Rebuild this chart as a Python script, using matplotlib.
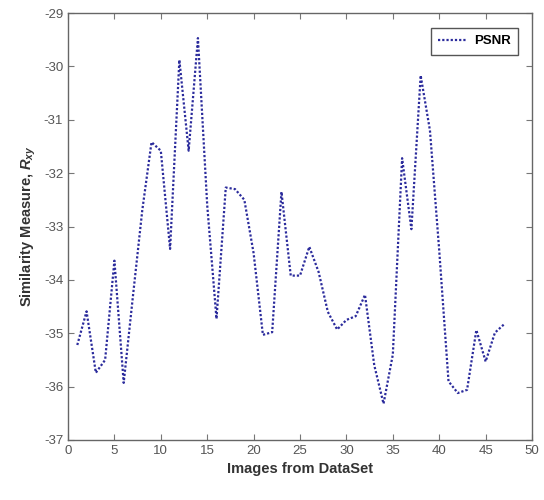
import matplotlib.pyplot as plt
import numpy as np

plt.rcParams['font.family'] = ['Liberation Sans', 'DejaVu Sans']
plt.rcParams['mathtext.fontset'] = 'custom'
plt.rcParams['mathtext.it'] = 'Liberation Sans:bold:italic'
plt.rcParams['mathtext.rm'] = 'Liberation Sans:bold'
plt.rcParams['axes.unicode_minus'] = False

# images 1..47 and their PSNR-based similarity values
images = np.arange(1, 48)
psnr = [-35.22, -34.59, -35.74, -35.5, -33.64, -35.93, -34.3, -32.7, -31.42, -31.58,
        -33.42, -29.88, -31.58, -29.47, -32.6, -34.73, -32.27, -32.3, -32.5, -33.5,
        -35.03, -34.98, -32.35, -33.92, -33.92, -33.38, -33.85, -34.6, -34.93, -34.75,
        -34.68, -34.28, -35.6, -36.32, -35.4, -31.72, -33.05, -30.17, -31.2, -33.45,
        -35.9, -36.12, -36.06, -34.94, -35.53, -34.99, -34.83]

x_ticks = np.arange(0, 51, 5)
y_ticks = np.arange(-37, -28, 1)

fig = plt.figure(figsize=(5.44, 5.0), dpi=100)
ax = fig.add_axes([0.125, 0.12, 0.853, 0.854])

ax.plot(images, psnr, linestyle=(0, (1, 0.9)), color='#2b2b9c', linewidth=1.6,
        label='PSNR')

ax.set_xlim(0, 50)
ax.set_ylim(-37, -29)
ax.set_xticks(x_ticks)
ax.set_yticks(y_ticks)
ax.tick_params(direction='in', top=True, right=True, length=4, width=0.8,
               colors='#777777', labelcolor='#555555', labelsize=9.5)
for side in ax.spines.values():
    side.set_color('#666666')
    side.set_linewidth(1.0)

ax.set_xlabel('Images from DataSet', fontsize=10.5, fontweight='bold', color='#333333')
ax.set_ylabel(r'Similarity Measure, $R_{xy}$', fontsize=10.5, fontweight='bold',
              color='#333333')

leg = ax.legend(loc='upper right', bbox_to_anchor=(0.97, 0.965), borderaxespad=0,
                prop={'weight': 'bold', 'size': 9.5},
                fancybox=False, edgecolor='#555555', handlelength=2.1,
                handletextpad=0.6, borderpad=0.55, framealpha=1)
leg.get_frame().set_linewidth(1.0)

fig.savefig('out.png', dpi=100)
